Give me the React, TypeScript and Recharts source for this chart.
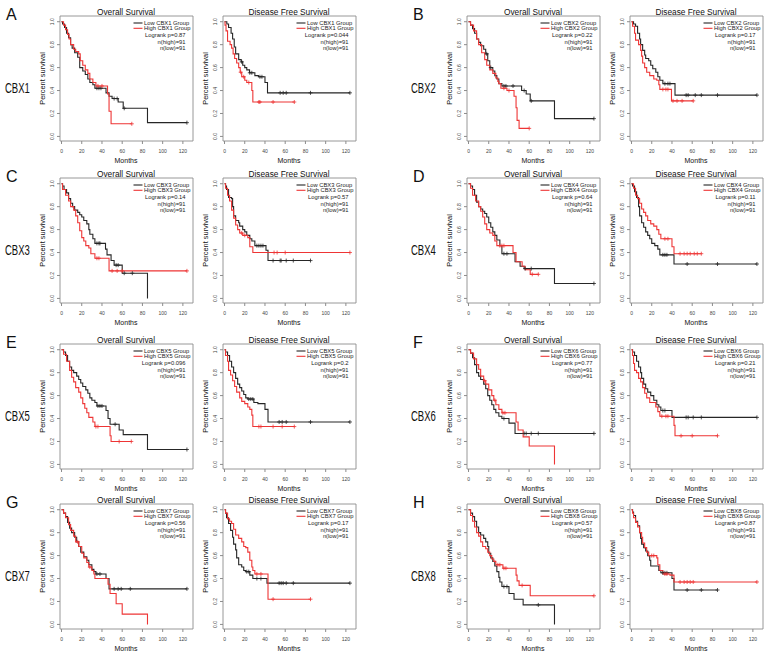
import React from 'react';
import { LineChart, Line, XAxis, YAxis, ReferenceArea } from 'recharts';

type Pt = [number, number];

// ---------- labels ----------
const letters = ['A', 'B', 'C', 'D', 'E', 'F', 'G', 'H'];
const genes = ['CBX1', 'CBX2', 'CBX3', 'CBX4', 'CBX5', 'CBX6', 'CBX7', 'CBX8'];
const osP = ['0.87', '0.22', '0.14', '0.64', '0.096', '0.77', '0.56', '0.57'];
const dfsP = ['0.044', '0.17', '0.57', '0.11', '0.2', '0.21', '0.17', '0.87'];
const nHigh = [91, 91, 91, 91, 91, 91, 91, 91];
const nLow = [91, 91, 91, 91, 91, 91, 91, 91];
const xTicks = [0, 20, 40, 60, 80, 100, 120];
const yTicks = [0, 0.2, 0.4, 0.6, 0.8, 1];

// ---------- survival curves: [month, survival after drop] + censor months ----------
const aOsLow: Pt[] = [[0,1],[1,0.98],[3,0.95],[5,0.9],[7,0.86],[9,0.8],[10.5,0.77],[13,0.73],[16,0.69],[18,0.6],[21,0.57],[23.5,0.54],[26,0.5],[28,0.47],[31,0.45],[33,0.42],[44,0.38],[47,0.35],[50,0.33],[56,0.3],[61,0.245],[85,0.12]];
const aOsLowC = [35, 37, 39, 52, 55, 62, 124];
const aOsHigh: Pt[] = [[0,1],[2,0.97],[4,0.93],[6,0.89],[7.5,0.85],[9,0.8],[12,0.76],[14,0.74],[17,0.72],[18.5,0.66],[21,0.62],[23.5,0.58],[26,0.55],[28,0.5],[31,0.47],[34,0.44],[45.5,0.37],[47,0.22],[49,0.11]];
const aOsHighC = [36, 40, 69.5];
const aDfsLow: Pt[] = [[0,1],[2.3,0.98],[4,0.95],[6.5,0.9],[8,0.85],[9.6,0.78],[11,0.72],[14,0.67],[16.5,0.65],[18,0.62],[20,0.6],[22,0.58],[24.7,0.555],[30,0.53],[33.5,0.52],[40,0.47],[42.5,0.38]];
const aDfsLowC = [17, 25, 27, 35, 37, 55, 58, 61, 85, 124];
const aDfsHigh: Pt[] = [[0,1],[0.5,0.97],[1.5,0.92],[3,0.83],[5.5,0.8],[7,0.77],[8.5,0.72],[10,0.68],[12,0.64],[14,0.6],[15.5,0.56],[17,0.52],[20,0.49],[22,0.47],[27,0.4],[28,0.3]];
const aDfsHighC = [16, 19, 24, 34, 35, 48, 69];

const bOsLow: Pt[] = [[0,1],[2,0.97],[4,0.94],[6,0.9],[8,0.85],[10,0.82],[12,0.79],[15,0.76],[17,0.72],[19,0.66],[21,0.6],[24,0.57],[26,0.53],[28,0.5],[30,0.46],[33,0.44],[52.5,0.4],[57,0.37],[61,0.31],[85,0.155]];
const bOsLowC = [18, 22, 35, 37, 44, 55, 62, 124];
const bOsHigh: Pt[] = [[0,1],[2,0.97],[5,0.92],[8,0.85],[10,0.8],[13,0.73],[16,0.67],[18,0.62],[21,0.58],[24,0.55],[27,0.51],[29,0.48],[30,0.46],[32,0.42],[38,0.4],[45,0.35],[47,0.25],[48,0.14],[50,0.07]];
const bOsHighC = [35, 40, 60];
const bDfsLow: Pt[] = [[0,1],[2,0.98],[4,0.96],[6,0.9],[8,0.85],[9,0.8],[11,0.75],[13,0.71],[14,0.68],[17,0.66],[19,0.62],[21,0.59],[24,0.56],[26,0.52],[28,0.49],[31,0.46],[43,0.36]];
const bDfsLowC = [33, 36, 38, 54, 56, 63, 69, 85, 124];
const bDfsHigh: Pt[] = [[0,1],[1,0.96],[3,0.9],[4,0.84],[7,0.8],[9,0.75],[10,0.7],[11,0.64],[13,0.6],[15,0.56],[18,0.53],[22,0.5],[25,0.49],[27,0.45],[28,0.41],[39.5,0.31]];
const bDfsHighC = [31, 34, 36, 41, 45, 50, 61];

const cOsLow: Pt[] = [[0,1],[1,0.98],[2.5,0.95],[5,0.92],[7,0.87],[9,0.83],[11,0.8],[13,0.77],[16,0.75],[18,0.73],[20,0.71],[22,0.68],[25,0.65],[27,0.6],[28,0.56],[31,0.52],[33,0.48],[43.5,0.43],[45,0.38],[49,0.33],[52,0.29],[60,0.22],[85,0]];
const cOsLowC = [35, 37, 38, 54, 56, 62, 70];
const cOsHigh: Pt[] = [[0,1],[1,0.95],[4,0.9],[7,0.85],[9,0.8],[12,0.77],[14,0.72],[16,0.66],[18,0.59],[20,0.53],[22,0.5],[24,0.46],[27,0.44],[29,0.39],[33,0.35],[47,0.24]];
const cOsHighC = [35, 37, 50, 55, 60, 124];
const cDfsLow: Pt[] = [[0,1],[1,0.98],[2,0.95],[4,0.88],[7,0.87],[8,0.8],[9,0.72],[11,0.68],[14,0.66],[15,0.63],[18,0.6],[20,0.58],[22,0.55],[25,0.52],[27,0.5],[30,0.46],[41,0.42],[43,0.33]];
const cDfsLowC = [32, 34, 36, 38, 48, 55, 56, 61, 68, 85];
const cDfsHigh: Pt[] = [[0,1],[1,0.96],[3,0.9],[5,0.85],[7,0.77],[9,0.7],[11,0.64],[13,0.6],[15,0.57],[18,0.55],[23,0.53],[25,0.45],[28,0.4]];
const cDfsHighC = [17, 20, 49, 52, 60, 124];

const dOsLow: Pt[] = [[0,1],[2,0.98],[4,0.95],[6,0.9],[8,0.84],[10,0.8],[12,0.78],[14,0.76],[16,0.74],[18,0.71],[20,0.66],[22,0.62],[24,0.58],[26,0.55],[28,0.51],[31,0.46],[33,0.39],[46,0.32],[51,0.28],[55,0.26],[85,0.13]];
const dOsLowC = [35, 38, 56, 62, 124];
const dOsHigh: Pt[] = [[0,1],[2,0.96],[4,0.9],[7,0.85],[10,0.8],[12,0.76],[14,0.71],[16,0.65],[18,0.6],[21,0.57],[24,0.55],[26,0.5],[28,0.46],[44,0.4],[47,0.32],[53,0.28],[56,0.25],[61,0.21]];
const dOsHighC = [31, 33, 35, 63, 69];
const dDfsLow: Pt[] = [[0,1],[1,0.98],[3,0.93],[5,0.88],[7,0.8],[8,0.72],[10,0.66],[12,0.62],[14,0.58],[16,0.55],[18,0.52],[20,0.48],[23,0.46],[26,0.43],[28,0.38],[42,0.3]];
const dDfsLowC = [31, 33, 35, 55, 85, 124];
const dDfsHigh: Pt[] = [[0,1],[2,0.96],[4,0.9],[6,0.87],[8,0.83],[10,0.78],[12,0.75],[14,0.72],[16,0.68],[19,0.65],[22,0.63],[25,0.6],[27,0.56],[29,0.52],[40,0.45],[42,0.39]];
const dDfsHighC = [33, 36, 48, 52, 55, 58, 62, 65, 69];

const eOsLow: Pt[] = [[0,1],[2,0.98],[4,0.95],[6,0.9],[8,0.85],[10,0.82],[12,0.8],[15,0.77],[17,0.74],[19,0.71],[21,0.68],[24,0.65],[26,0.62],[28,0.58],[30,0.56],[33,0.54],[35,0.51],[44,0.47],[46,0.4],[48,0.35],[57,0.3],[61,0.26],[85,0.13]];
const eOsLowC = [36, 38, 40, 53, 124];
const eOsHigh: Pt[] = [[0,1],[2,0.96],[5,0.9],[8,0.82],[10,0.76],[12,0.72],[14,0.67],[17,0.63],[19,0.58],[21,0.53],[23,0.49],[25,0.45],[27,0.41],[31,0.37],[33,0.33],[48,0.25],[49,0.2]];
const eOsHighC = [34, 36, 57, 69];
const eDfsLow: Pt[] = [[0,1],[1,0.98],[3,0.95],[5,0.9],[7,0.85],[9,0.8],[11,0.75],[13,0.7],[15,0.67],[17,0.64],[19,0.61],[21,0.58],[23,0.57],[29,0.54],[33,0.53],[40,0.48],[43,0.37]];
const eDfsLowC = [24, 26, 28, 54, 57, 61, 85, 124];
const eDfsHigh: Pt[] = [[0,1],[1,0.95],[3,0.9],[4,0.82],[6,0.78],[8,0.73],[10,0.68],[12,0.63],[15,0.58],[17,0.55],[20,0.53],[23,0.5],[25,0.48],[27,0.43],[28,0.33]];
const eDfsHighC = [34, 36, 48, 57, 69];

const fOsLow: Pt[] = [[0,1],[2,0.97],[4,0.93],[6,0.87],[8,0.8],[10,0.77],[12,0.74],[15,0.7],[17,0.66],[19,0.6],[21,0.56],[23,0.52],[25,0.48],[27,0.45],[30,0.42],[33,0.4],[40,0.36],[46,0.27]];
const fOsLowC = [35, 55, 57, 62, 69, 124];
const fOsHigh: Pt[] = [[0,1],[2,0.97],[5,0.92],[8,0.87],[10,0.83],[12,0.77],[15,0.73],[17,0.7],[20,0.65],[23,0.6],[25,0.56],[27,0.52],[30,0.48],[33,0.45],[47,0.37],[49,0.3],[54,0.24],[60,0.16],[85,0]];
const fOsHighC = [16, 26, 34, 36];
const fDfsLow: Pt[] = [[0,1],[1,0.98],[3,0.95],[5,0.9],[7,0.85],[9,0.8],[10,0.75],[12,0.7],[14,0.66],[16,0.63],[19,0.6],[22,0.56],[25,0.52],[27,0.5],[29,0.47],[40,0.41]];
const fDfsLowC = [31, 33, 54, 56, 61, 69, 124];
const fDfsHigh: Pt[] = [[0,1],[1,0.95],[2,0.88],[3,0.82],[5,0.8],[7,0.75],[9,0.72],[11,0.67],[13,0.62],[15,0.58],[18,0.54],[24,0.5],[26,0.46],[28,0.42],[42,0.34],[43,0.25]];
const fDfsHighC = [30, 34, 36, 49, 60, 85];

const gOsLow: Pt[] = [[0,1],[2,0.97],[4,0.94],[6,0.89],[8,0.84],[10,0.8],[13,0.76],[15,0.72],[17,0.68],[19,0.63],[22,0.59],[25,0.56],[27,0.52],[30,0.48],[32,0.46],[34,0.44],[44,0.4],[47,0.31]];
const gOsLowC = [35, 38, 52, 56, 59, 68, 124];
const gOsHigh: Pt[] = [[0,1],[2,0.97],[4,0.93],[7,0.87],[9,0.82],[12,0.77],[14,0.72],[17,0.68],[20,0.62],[22,0.58],[25,0.54],[27,0.5],[30,0.47],[32,0.44],[33,0.4],[46,0.35],[48,0.27],[54,0.18],[60,0.09],[85,0]];
const gOsHighC = [16, 28];
const gDfsLow: Pt[] = [[0,1],[1,0.97],[2,0.93],[4,0.88],[6,0.82],[8,0.76],[9,0.7],[11,0.65],[12,0.58],[14,0.52],[17,0.5],[19,0.47],[21,0.46],[25,0.43],[28,0.4],[42,0.36]];
const gDfsLowC = [22, 24, 32, 36, 54, 56, 58, 61, 68, 124];
const gDfsHigh: Pt[] = [[0,1],[1,0.97],[3,0.92],[5,0.9],[7,0.88],[9,0.83],[11,0.78],[14,0.75],[17,0.72],[19,0.68],[21,0.67],[23,0.63],[25,0.56],[27,0.5],[28,0.47],[30,0.44],[43,0.22]];
const gDfsHighC = [32, 36, 48, 85];

const hOsLow: Pt[] = [[0,1],[2,0.97],[4,0.94],[6,0.9],[8,0.85],[10,0.8],[12,0.78],[15,0.75],[17,0.72],[19,0.68],[20,0.62],[22,0.58],[24,0.55],[26,0.51],[28,0.46],[30,0.41],[31,0.37],[33,0.33],[40,0.27],[45,0.22],[54,0.17],[85,0]];
const hOsLowC = [35, 38, 69];
const hOsHigh: Pt[] = [[0,1],[2,0.95],[4,0.9],[6,0.85],[8,0.8],[10,0.77],[12,0.72],[14,0.68],[17,0.66],[19,0.63],[21,0.6],[23,0.57],[25,0.55],[27,0.52],[34,0.49],[47,0.43],[48,0.38],[50,0.34],[61,0.25]];
const hOsHighC = [29, 31, 35, 37, 53, 124];
const hDfsLow: Pt[] = [[0,1],[1,0.98],[2,0.95],[4,0.9],[6,0.86],[8,0.8],[9,0.75],[10,0.7],[12,0.67],[14,0.64],[16,0.6],[18,0.56],[19,0.51],[27,0.47],[29,0.45],[40,0.4],[42,0.3]];
const hDfsLowC = [31, 33, 35, 55, 69, 85];
const hDfsHigh: Pt[] = [[0,1],[1,0.97],[2,0.93],[4,0.89],[6,0.85],[8,0.8],[10,0.76],[11,0.71],[13,0.67],[15,0.63],[17,0.6],[25,0.58],[26,0.52],[28,0.47],[31,0.44],[38,0.43],[42,0.37]];
const hDfsHighC = [20, 22, 33, 35, 48, 52, 55, 58, 61, 124];

const osCurves: [Pt[], number[], Pt[], number[]][] = [
  [aOsLow, aOsLowC, aOsHigh, aOsHighC],
  [bOsLow, bOsLowC, bOsHigh, bOsHighC],
  [cOsLow, cOsLowC, cOsHigh, cOsHighC],
  [dOsLow, dOsLowC, dOsHigh, dOsHighC],
  [eOsLow, eOsLowC, eOsHigh, eOsHighC],
  [fOsLow, fOsLowC, fOsHigh, fOsHighC],
  [gOsLow, gOsLowC, gOsHigh, gOsHighC],
  [hOsLow, hOsLowC, hOsHigh, hOsHighC],
];
const dfsCurves: [Pt[], number[], Pt[], number[]][] = [
  [aDfsLow, aDfsLowC, aDfsHigh, aDfsHighC],
  [bDfsLow, bDfsLowC, bDfsHigh, bDfsHighC],
  [cDfsLow, cDfsLowC, cDfsHigh, cDfsHighC],
  [dDfsLow, dDfsLowC, dDfsHigh, dDfsHighC],
  [eDfsLow, eDfsLowC, eDfsHigh, eDfsHighC],
  [fDfsLow, fDfsLowC, fDfsHigh, fDfsHighC],
  [gDfsLow, gDfsLowC, gDfsHigh, gDfsHighC],
  [hDfsLow, hDfsLowC, hDfsHigh, hDfsHighC],
];

// ---------- layout ----------
const colLeft = [59.5, 222.5, 466.5, 629.5];
const rowTop = [16, 178, 344, 504];
const PW = 133;
const PH = 125;
const ML = 40;
const MT = 12;
const MR = 6;
const XH = 30;
const XDOM: [number, number] = [-1.5, 130];
const YDOM: [number, number] = [-0.04, 1.05];
const BLACK = '#262626';
const RED = '#ee3535';
const GREY = '#8c8c8c';
const FONT = '"Liberation Sans", Arial, Helvetica, sans-serif';

type Row = { t: number; s: number; c: number };
function buildCurve(drops: Pt[], cens: number[]): Row[] {
  const rows: Row[] = drops.map(([t, s]) => ({ t, s, c: 0 }));
  cens.forEach((ct) => {
    let s = 1;
    drops.forEach(([t, v]) => {
      if (t <= ct) s = v;
    });
    rows.push({ t: ct, s, c: 1 });
  });
  rows.sort((a, b) => a.t - b.t || a.c - b.c);
  return rows;
}

const XTick = (p: any) => (
  <text x={p.x} y={p.y} dy="0.71em" textAnchor="middle" fontSize={5} fill="#444" fontFamily={FONT}>
    {p.payload.value}
  </text>
);
const YTick = (p: any) => (
  <text
    transform={`translate(${p.x - 1.5},${p.y}) rotate(-90)`}
    textAnchor="middle"
    fontSize={5}
    fill="#444"
    fontFamily={FONT}
  >
    {Number(p.payload.value).toFixed(1)}
  </text>
);

const censorDot = (color: string) => (props: any) => {
  const { cx, cy, payload, index } = props;
  if (!payload || !payload.c || cx == null || cy == null) return <g key={`n${index}`} />;
  return (
    <path
      key={`c${index}`}
      d={`M${cx - 2},${cy}h4M${cx},${cy - 2}v4`}
      stroke={color}
      strokeWidth={0.8}
      fill="none"
    />
  );
};

function Panel({ left, top, low, high }: { left: number; top: number; low: Row[]; high: Row[] }) {
  const W = ML + PW + MR;
  const H = MT + PH + XH;
  return (
    <div style={{ position: 'absolute', left: left - ML, top: top - MT, width: W, height: H }}>
      <LineChart width={W} height={H} margin={{ top: MT, right: MR, left: 0, bottom: 0 }}>
        <XAxis
          type="number"
          dataKey="t"
          domain={XDOM}
          ticks={xTicks}
          interval={0}
          allowDataOverflow
          axisLine={false}
          stroke={GREY}
          tickSize={3}
          tickMargin={5}
          height={XH}
          tick={XTick}
        />
        <YAxis
          type="number"
          dataKey="s"
          domain={YDOM}
          ticks={yTicks}
          interval={0}
          allowDataOverflow
          axisLine={false}
          stroke={GREY}
          tickSize={3}
          tickMargin={2}
          width={ML}
          tick={YTick}
        />
        <ReferenceArea
          x1={XDOM[0]}
          x2={XDOM[1]}
          y1={YDOM[0]}
          y2={YDOM[1]}
          fill="none"
          fillOpacity={0}
          stroke={GREY}
          strokeWidth={0.9}
          ifOverflow="visible"
        />
        <Line
          data={low}
          dataKey="s"
          type="stepAfter"
          stroke={BLACK}
          strokeWidth={1.1}
          dot={censorDot(BLACK)}
          activeDot={false}
          isAnimationActive={false}
        />
        <Line
          data={high}
          dataKey="s"
          type="stepAfter"
          stroke={RED}
          strokeWidth={1.1}
          dot={censorDot(RED)}
          activeDot={false}
          isAnimationActive={false}
        />
      </LineChart>
    </div>
  );
}

function PanelText({ left, top, title, gene, p, nh, nl }: any) {
  const R = left + PW;
  const cx = left + PW / 2;
  const fs = 5.8;
  return (
    <g fontFamily={FONT}>
      <text x={cx} y={top - 1.5} textAnchor="middle" fontSize={8.3} fill="#111">
        {title}
      </text>
      <text
        transform={`translate(${left - 14.5},${top + PH / 2}) rotate(-90)`}
        textAnchor="middle"
        fontSize={7.4}
        fill="#111"
      >
        Percent survival
      </text>
      <text x={cx} y={top + PH + 21.5} textAnchor="middle" fontSize={7} fill="#111">
        Months
      </text>
      <line x1={R - 59} x2={R - 50} y1={top + 7} y2={top + 7} stroke={BLACK} strokeWidth={1.1} />
      <text x={R - 48.5} y={top + 7 + 2} fontSize={fs} fill="#222">{`Low ${gene} Group`}</text>
      <line x1={R - 59} x2={R - 50} y1={top + 12.3} y2={top + 12.3} stroke={RED} strokeWidth={1.1} />
      <text x={R - 48.5} y={top + 12.3 + 2} fontSize={fs} fill="#222">{`High ${gene} Group`}</text>
      <text x={R - 7} y={top + 18.7 + 2} textAnchor="end" fontSize={fs} fill="#222">{`Logrank p=${p}`}</text>
      <text x={R - 7} y={top + 25.7 + 2} textAnchor="end" fontSize={fs} fill="#222">{`n(high)=${nh}`}</text>
      <text x={R - 7} y={top + 32.3 + 2} textAnchor="end" fontSize={fs} fill="#222">{`n(low)=${nl}`}</text>
    </g>
  );
}

export default function App() {
  const panels: any[] = [];
  const texts: any[] = [];
  for (let g = 0; g < 8; g++) {
    const row = Math.floor(g / 2);
    const gc = g % 2;
    const top = rowTop[row];
    const osLeft = colLeft[gc * 2];
    const dfsLeft = colLeft[gc * 2 + 1];
    const os = osCurves[g];
    const dfs = dfsCurves[g];
    panels.push(
      <Panel key={`os${g}`} left={osLeft} top={top} low={buildCurve(os[0], os[1])} high={buildCurve(os[2], os[3])} />
    );
    panels.push(
      <Panel key={`dfs${g}`} left={dfsLeft} top={top} low={buildCurve(dfs[0], dfs[1])} high={buildCurve(dfs[2], dfs[3])} />
    );
    texts.push(
      <PanelText key={`tos${g}`} left={osLeft} top={top} title="Overall Survival" gene={genes[g]} p={osP[g]} nh={nHigh[g]} nl={nLow[g]} />
    );
    texts.push(
      <PanelText key={`tdfs${g}`} left={dfsLeft} top={top} title="Disease Free Survival" gene={genes[g]} p={dfsP[g]} nh={nHigh[g]} nl={nLow[g]} />
    );
    const lx = gc === 0 ? 6 : 413;
    const gx = gc === 0 ? 5 : 411;
    texts.push(
      <text key={`l${g}`} x={lx} y={top + 4} fontSize={16} fontFamily={FONT} fill="#111">
        {letters[g]}
      </text>
    );
    texts.push(
      <text
        key={`g${g}`}
        transform={`translate(${gx},${top + 77}) scale(0.68,1)`}
        fontSize={14}
        fontFamily={FONT}
        fill="#111"
      >
        {genes[g]}
      </text>
    );
  }
  return (
    <div style={{ position: 'absolute', left: 0, top: 0, width: 768, height: 656, background: '#fff', overflow: 'hidden' }}>
      {panels}
      <svg width={768} height={656} style={{ position: 'absolute', left: 0, top: 0, pointerEvents: 'none' }}>
        {texts}
      </svg>
    </div>
  );
}
